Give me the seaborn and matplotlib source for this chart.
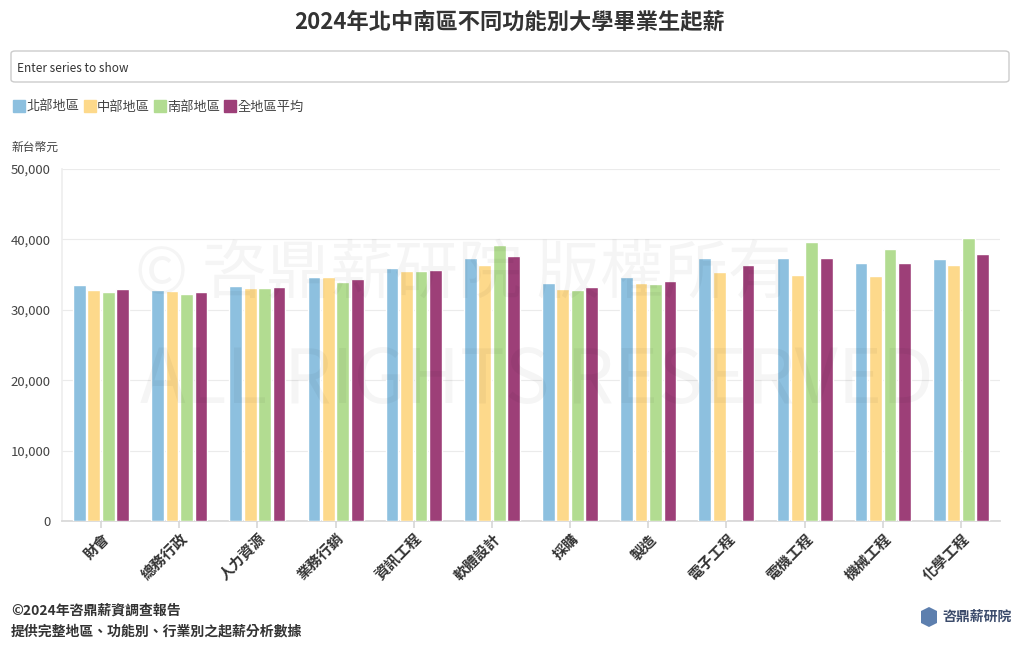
import pandas as pd
import numpy as np
import matplotlib
matplotlib.use("Agg")
import matplotlib.pyplot as plt
import seaborn as sns
from matplotlib.patches import FancyBboxPatch, Polygon
from matplotlib.lines import Line2D
from matplotlib.ticker import FuncFormatter

# data (新台幣元)
categories = ["財會", "總務行政", "人力資源", "業務行銷", "資訊工程", "軟體設計",
              "採購", "製造", "電子工程", "電機工程", "機械工程", "化學工程"]
regions = ["北部地區", "中部地區", "南部地區", "全地區平均"]
north = [33500, 32800, 33400, 34600, 35900, 37400, 33800, 34600, 37400, 37300, 36600, 37200]
central = [32800, 32700, 33100, 34700, 35500, 36300, 33000, 33800, 35300, 35000, 34800, 36400]
south = [32500, 32200, 33100, 34000, 35500, 39200, 32800, 33700, np.nan, 39700, 38700, 40200]
average = [33000, 32500, 33200, 34400, 35600, 37600, 33200, 34100, 36300, 37400, 36700, 37900]
colors = ["#8dc0df", "#fdd98b", "#b2dc91", "#9d3f78"]

rows = []
for reg, vals in zip(regions, [north, central, south, average]):
    for cat, v in zip(categories, vals):
        rows.append({"功能別": cat, "地區": reg, "起薪": v})
df = pd.DataFrame(rows)

sns.set_theme(style="white")
plt.rcParams["font.family"] = ["Noto Sans CJK TC", "DejaVu Sans"]
text_c = "#444444"

fig = plt.figure(figsize=(10.2, 6.5), dpi=100)
ax = fig.add_axes([62 / 1020, 129 / 650, 938 / 1020, 352 / 650])

sns.barplot(data=df, x="功能別", y="起薪", hue="地區", order=categories,
            hue_order=regions, palette=colors, width=0.74, gap=0.12,
            saturation=1, ax=ax, legend=False, zorder=3)

# watermark
fig.text(135 / 1020, 1 - 275 / 650, "© 咨鼎薪研院 版權所有", ha="left",
         va="center", fontsize=46, color="#000000", alpha=0.04, zorder=1)
fig.text(140 / 1020, 1 - 382 / 650, "ALL RIGHTS RESERVED", ha="left",
         va="center", fontsize=54, color="#000000", alpha=0.04, zorder=1)

ax.set_ylim(0, 50000)
ax.set_xlim(-0.5, len(categories) - 0.5)
ax.set_yticks(range(0, 50001, 10000))
ax.yaxis.set_major_formatter(FuncFormatter(lambda v, p: f"{int(v):,}"))
ax.grid(axis="y", color="#ebebeb", linewidth=0.8, zorder=0)
ax.set_xlabel("")
ax.set_ylabel("")
for s in ["top", "right"]:
    ax.spines[s].set_visible(False)
ax.spines["left"].set_color("#eeeeee")
ax.spines["bottom"].set_color("#d8d8d8")
ax.tick_params(axis="y", length=0, labelsize=9.5, labelcolor=text_c, pad=8)
ax.tick_params(axis="x", length=5, color="#d8d8d8", labelsize=10.5, labelcolor="#333333", pad=2)
ax.xaxis.set_ticks_position("bottom")
for lbl in ax.get_xticklabels():
    lbl.set_rotation(45)
    lbl.set_ha("right")
    lbl.set_rotation_mode("anchor")
    lbl.set_fontweight("bold")
for lbl in ax.get_yticklabels():
    lbl.set_fontweight("medium")

# title
fig.text(0.5, 1 - 22 / 650, "2024年北中南區不同功能別大學畢業生起薪", ha="center", va="center",
         fontsize=16, fontweight="bold", color="#333333")

# series search box
box = FancyBboxPatch((11 / 1020, 568 / 650), 998 / 1020, 31 / 650,
                     boxstyle="round,pad=0,rounding_size=0.004", transform=fig.transFigure,
                     facecolor="white", edgecolor="#cccccc", linewidth=1)
fig.patches.append(box)
fig.text(17 / 1020, 1 - 68 / 650, "Enter series to show", ha="left", va="center",
         fontsize=8.5, color="#333333")

# legend
handles = [Line2D([], [], marker="s", linestyle="none", markersize=9,
                  markerfacecolor=c, markeredgecolor=c) for c in colors]
fig.legend(handles, regions, loc="center left", bbox_to_anchor=(3 / 1020, 1 - 107 / 650),
           ncol=4, frameon=False, handlelength=0.7, handletextpad=0.2,
           columnspacing=0.4, fontsize=9.5, labelcolor=text_c)

fig.text(11 / 1020, 1 - 147 / 650, "新台幣元", ha="left", va="center", fontsize=8.5, color=text_c)

# footer
fig.text(11 / 1020, 1 - 611 / 650, "©2024年咨鼎薪資調查報告", ha="left", va="center",
         fontsize=10, fontweight="bold", color="#333333")
fig.text(11 / 1020, 1 - 631 / 650, "提供完整地區、功能別、行業別之起薪分析數據", ha="left", va="center",
         fontsize=10, fontweight="bold", color="#333333")

# logo
hexagon = [(929, 607), (937, 611), (937, 623), (929, 627), (921, 623), (921, 611)]
logo = Polygon([[x / 1020, 1 - y / 650] for x, y in hexagon], closed=True,
               transform=fig.transFigure, facecolor="#5d7fae", edgecolor="none")
fig.patches.append(logo)
fig.text(942 / 1020, 1 - 617 / 650, "咨鼎薪研院", ha="left", va="center",
         fontsize=10, fontweight="bold", color="#3b4b6b")

fig.savefig("out.png", dpi=100)
